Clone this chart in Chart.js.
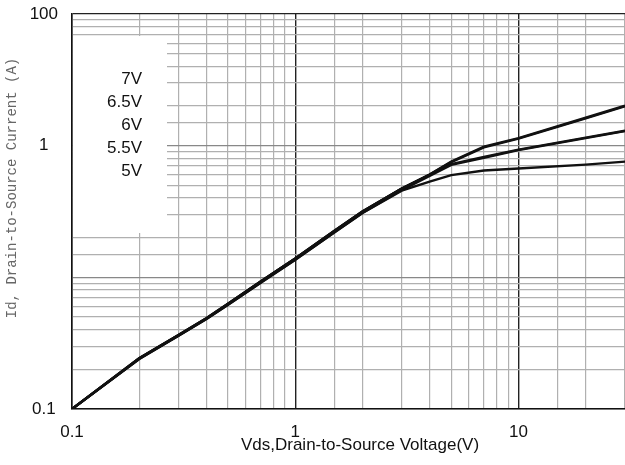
<!DOCTYPE html>
<html>
<head>
<meta charset="utf-8">
<script src="https://cdn.jsdelivr.net/npm/chart.js@4.4.1/dist/chart.umd.min.js"></script>
<style>
  body { margin: 0; background: #fff; }
  canvas { display: block; }
</style>
</head>
<body>
<canvas id="iv-chart" width="625" height="465"></canvas>
<script>
// Vds sample points (V)
const vds = [0.1, 0.2, 0.3, 0.4, 0.5, 0.7, 1, 1.5, 2, 3, 4, 5, 7, 10, 20, 30];

// Id (A), one list per gate voltage
const id7V  = [0.1, 0.243, 0.364, 0.489, 0.63, 0.93, 1.39, 2.26, 3.16, 4.72, 6.03, 7.57, 9.82, 11.4, 16.3, 20.1];
const id65V = [0.1, 0.243, 0.364, 0.489, 0.63, 0.93, 1.39, 2.26, 3.16, 4.72, 6.03, 7.5, 9.7, 11.3, 16.1, 19.9];
const id6V  = [0.1, 0.243, 0.364, 0.489, 0.63, 0.93, 1.39, 2.26, 3.16, 4.72, 6.0, 7.24, 8.2, 9.33, 11.5, 13.0];
const id55V = [0.1, 0.24, 0.36, 0.483, 0.62, 0.91, 1.36, 2.2, 3.08, 4.6, 5.9, 7.15, 8.1, 9.25, 11.4, 12.9];
const id5V  = [0.1, 0.24, 0.36, 0.483, 0.62, 0.91, 1.36, 2.2, 3.08, 4.55, 5.34, 5.97, 6.47, 6.70, 7.18, 7.57];

const gateLabels = ['7V', '6.5V', '6V', '5.5V', '5V'];
const seriesList = [id7V, id65V, id6V, id55V, id5V];

// tick labels as printed on the original (the middle y label sits on the 10 line)
const xTickValues = [0.1, 1, 10];
const xTickText = ['0.1', '1', '10'];
const yTickValues = [0.1, 10, 100];
const yTickText = ['0.1', '1', '100'];

const xTitle = 'Vds,Drain-to-Source Voltage(V)';
const yTitle = 'Id, Drain-to-Source Current (A)';

function labelFor(value, values, texts) {
    const i = values.findIndex(v => Math.abs(v - value) < v * 1e-6);
    return i >= 0 ? texts[i] : '';
}

function isDecade(v) {
    const l = Math.log10(v);
    return Math.abs(l - Math.round(l)) < 1e-6;
}

const datasets = seriesList.map((ys, i) => ({
    label: gateLabels[i],
    data: vds.map((x, j) => ({ x: x, y: ys[j] })),
    borderColor: '#111',
    borderWidth: 2.4,
    pointRadius: 0,
    tension: 0,
    showLine: true
}));

// white box behind the gate voltage labels, the labels and the axis titles
const overlayPlugin = {
    id: 'overlay',
    beforeDatasetsDraw(chart) {
        const { ctx, chartArea } = chart;
        ctx.save();
        ctx.fillStyle = '#fff';
        ctx.fillRect(chartArea.left + 1, 36, 167 - chartArea.left - 1, 233 - 36);
        ctx.restore();
    },
    afterDraw(chart) {
        const ctx = chart.ctx;
        ctx.save();
        ctx.fillStyle = '#111';
        ctx.font = '17px "Liberation Sans", Arial, sans-serif';
        ctx.textAlign = 'right';
        ctx.textBaseline = 'middle';
        chart.data.datasets.forEach((ds, i) => {
            ctx.fillText(ds.label, 142, 79 + i * 23);
        });

        ctx.textAlign = 'center';
        ctx.fillText(xTitle, 360, 445);

        ctx.translate(12, 188);
        ctx.rotate(-Math.PI / 2);
        ctx.fillStyle = '#666';
        ctx.font = '14px "Liberation Mono", monospace';
        ctx.fillText(yTitle, 0, 0);
        ctx.restore();
    }
};

new Chart(document.getElementById('iv-chart'), {
    type: 'scatter',
    data: { datasets: datasets },
    options: {
        responsive: false,
        animation: false,
        layout: { padding: { top: 14, right: 0, left: 0, bottom: 0 } },
        plugins: {
            legend: { display: false },
            tooltip: { enabled: false }
        },
        scales: {
            x: {
                type: 'logarithmic',
                min: 0.1,
                max: 30,
                afterFit: (scale) => {
                    scale.height = 56;
                    scale.paddingLeft = 0;
                    scale.paddingRight = 0;
                },
                border: { color: '#111', width: 1.5 },
                grid: {
                    drawTicks: false,
                    color: (c) => c.tick && isDecade(c.tick.value) ? '#222' : '#b0b0b0',
                    lineWidth: (c) => c.tick && isDecade(c.tick.value) ? 1.4 : 1.2
                },
                ticks: {
                    autoSkip: false,
                    maxRotation: 0,
                    padding: 13,
                    color: '#111',
                    font: { family: '"Liberation Sans", Arial, sans-serif', size: 17 },
                    callback: (value) => labelFor(value, xTickValues, xTickText)
                }
            },
            y: {
                type: 'logarithmic',
                min: 0.1,
                max: 100,
                afterFit: (scale) => {
                    scale.width = 72;
                    scale.paddingTop = 0;
                    scale.paddingBottom = 0;
                },
                border: { color: '#111', width: 1.5 },
                grid: {
                    drawTicks: false,
                    color: (c) => {
                        if (!c.tick) return '#b0b0b0';
                        if (c.tick.value >= 100) return '#222';
                        return isDecade(c.tick.value) ? '#888' : '#b0b0b0';
                    },
                    lineWidth: 1.2
                },
                ticks: {
                    autoSkip: false,
                    crossAlign: 'center',
                    padding: 14,
                    color: '#111',
                    font: { family: '"Liberation Sans", Arial, sans-serif', size: 17 },
                    callback: (value) => labelFor(value, yTickValues, yTickText)
                }
            }
        }
    },
    plugins: [overlayPlugin]
});
</script>
</body>
</html>
